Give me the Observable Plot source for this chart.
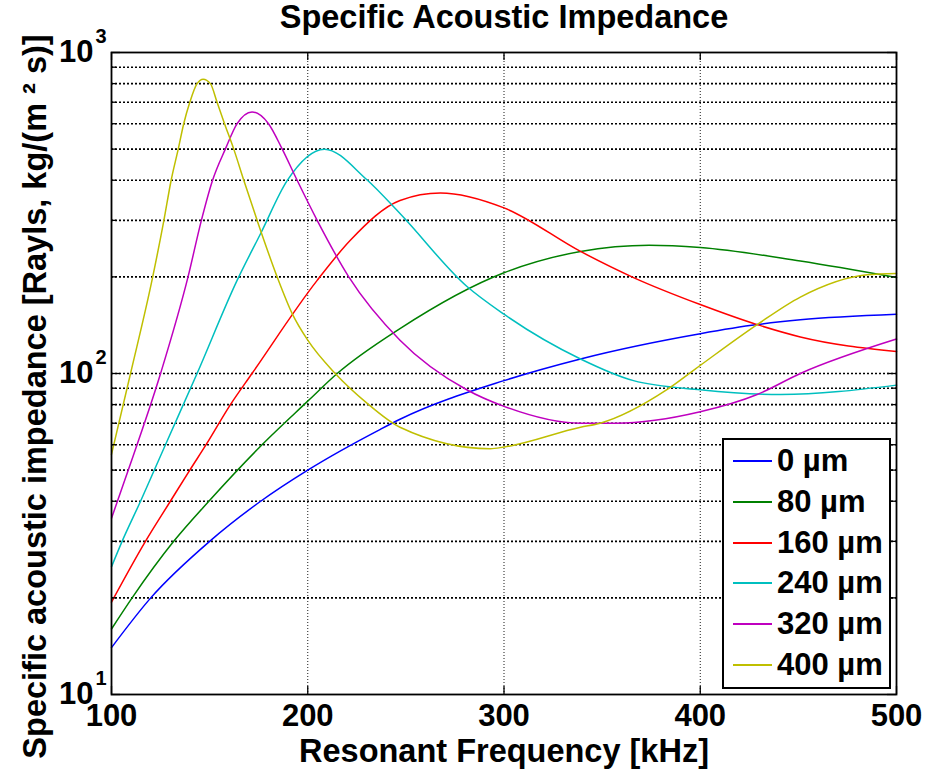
<!DOCTYPE html>
<html><head><meta charset="utf-8">
<script src="https://cdn.jsdelivr.net/npm/d3@7"></script>
<script src="https://cdn.jsdelivr.net/npm/@observablehq/plot@0.6"></script>
<style>
body{margin:0;background:#fff;}
#wrap{position:relative;width:925px;height:772px;font-family:"Liberation Sans",Arial,Helvetica,sans-serif;}
#legend{position:absolute;left:722px;top:438px;width:165px;height:247px;border:2px solid #000;background:#fff;}
.row{position:absolute;left:0;height:40px;display:flex;align-items:center;font-weight:bold;font-size:31px;line-height:40px;white-space:nowrap;}
.sw{width:39px;height:2px;margin-left:9px;margin-right:5px;}
</style></head><body><div id="wrap"></div>
<script>
// ---- data ----
const labels = ["0 µm", "80 µm", "160 µm", "240 µm", "320 µm", "400 µm"];
const colors = ["#0000ff", "#008000", "#ff0000", "#00bfbf", "#bf00bf", "#bfbf00"];

const f0 = [100,120,150,176,200,237,247,300,339,400,429,451,500];
const z0 = [14,20,30,40,50,67,72,95,111,133,142,147,153];

const f1 = [100,110.5,131.7,149.6,176.7,200,215,247,300,339,374,400,451,500];
const z1 = [16,20,30,40,60,82,100,138,206,240,251,247,224,199];

const f2 = [100,117.3,130,139.9,148.2,160.6,171.6,204.8,221.7,247,267.6,300,339,366,400,429,451,500];
const z2 = [19.4,30,40,50,60,80,100,195,260,346,365,328,240,199,164,142,130,117];

const f3 = [100,105.4,114.8,127.5,143.6,164,176,189.5,208.5,230,247,281,300,339,366,400,441,500];
const z3 = [25,30,40,60,100,195,273,399,500,402,315,187,153,111,95,89,86,92];

const f4 = [100,107,125,139,145.8,151.5,158,164,171.6,180,187,194.6,204.8,220.9,247,281,300,339,357,400,429,451,500];
const z4 = [35.4,47,100,200,300,400,500,600,653,600,500,400,300,200,127,89,79,70,70,76,86,100,128];

const f5 = [100,109.7,121,126.7,130.4,134,136.8,139.9,143.6,146.7,150.4,153.8,157.6,162.3,167.4,174.2,184.4,192,200,214,230,247,293,300,339,349,383,400,429,451,485,500];
const z5 = [56,100,200,300,400,500,600,700,800,826,800,700,600,500,400,300,200,154,127,100,81,68,58.3,59,68,70,89,106,142,173,203,205];

const xTicks = [100, 200, 300, 400, 500];
const yMajor = [10, 100, 1000];
const yExp = ["1", "2", "3"];
const yGrid = [20,30,40,50,60,70,80,90,100,200,300,400,500,600,700,800,900];
const yMinor = [20,30,40,50,60,70,80,90,200,300,400,500,600,700,800,900];

const title = "Specific Acoustic Impedance";
const xLabel = "Resonant Frequency [kHz]";
const yLabel = "Specific acoustic impedance [Rayls, kg/(m \u00b2 s)]";

// ---- build ----
const freqs = [f0, f1, f2, f3, f4, f5];
const vals = [z0, z1, z2, z3, z4, z5];
const rows = labels.flatMap((lab, k) => freqs[k].map((f, i) => ({f, z: vals[k][i], key: lab})));

const W = 925, H = 772, mL = 111, mR = 29, mT = 52, mB = 78;
const pW = W - mL - mR, pH = H - mT - mB;
const FONT = '"Liberation Sans", Arial, Helvetica, sans-serif';
const T = {fontSize: 31, fontWeight: "bold", lineAnchor: "middle", fill: "#000"};

const chart = Plot.plot({
  width: W, height: H,
  marginLeft: mL, marginRight: mR, marginTop: mT, marginBottom: mB,
  x: {domain: [100, 500], axis: null},
  y: {type: "log", domain: [10, 1000], axis: null},
  color: {domain: labels, range: colors},
  style: {fontFamily: FONT, fontWeight: "bold", background: "#fff", overflow: "visible", color: "#000"},
  marks: [
    Plot.ruleY(yGrid, {y: d => d, stroke: "#000", strokeWidth: 1.6, strokeDasharray: "2,2"}),
    Plot.ruleX(xTicks.slice(1, -1), {x: d => d, stroke: "#000", strokeWidth: 0.9, strokeDasharray: "1,2"}),
    Plot.line(rows, {x: "f", y: "z", z: "key", stroke: "key", curve: "monotone-x", strokeWidth: 1.5}),
    Plot.frame({stroke: "#000", strokeWidth: 1.8}),
    Plot.tickX(xTicks, {x: d => d, insetTop: pH - 8, stroke: "#000", strokeWidth: 1.3}),
    Plot.tickX(xTicks, {x: d => d, insetBottom: pH - 8, stroke: "#000", strokeWidth: 1.3}),
    Plot.tickY(yMinor, {y: d => d, insetRight: pW - 5, stroke: "#000", strokeWidth: 1.3}),
    Plot.tickY(yMinor, {y: d => d, insetLeft: pW - 5, stroke: "#000", strokeWidth: 1.3}),
    Plot.tickY(yMajor, {y: d => d, insetRight: pW - 9, stroke: "#000", strokeWidth: 1.3}),
    Plot.tickY(yMajor, {y: d => d, insetLeft: pW - 9, stroke: "#000", strokeWidth: 1.3}),
    Plot.text(xTicks, {...T, x: d => d, frameAnchor: "bottom", dy: 22, text: d => String(d)}),
    Plot.text([xLabel], {...T, fontSize: 32.5, frameAnchor: "bottom", dy: 57, text: d => d}),
    Plot.text(yMajor, {...T, y: d => d, frameAnchor: "left", dx: -18, textAnchor: "end", text: () => "10"}),
    Plot.text(yMajor, {...T, fontSize: 20, y: d => d, frameAnchor: "left", dx: -5, dy: -16, textAnchor: "end", text: (d, i) => yExp[i]}),
    Plot.text([yLabel], {...T, fontSize: 32.5, frameAnchor: "left", textAnchor: "middle", dx: -76, dy: 23, rotate: -90, text: d => d}),
    Plot.text([title], {...T, frameAnchor: "top", textAnchor: "middle", dy: -35, text: d => d, fontSize: 32.5})
  ]
});

const wrap = document.getElementById("wrap");
wrap.appendChild(chart);

// legend
const leg = document.createElement("div");
leg.id = "legend";
labels.forEach((lab, i) => {
  const r = document.createElement("div");
  r.className = "row";
  r.style.top = (1 + i * 40.8) + "px";
  const sw = document.createElement("span");
  sw.className = "sw";
  sw.style.background = colors[i];
  const t = document.createElement("span");
  t.textContent = lab;
  r.appendChild(sw); r.appendChild(t);
  leg.appendChild(r);
});
wrap.appendChild(leg);
</script>
</body></html>
